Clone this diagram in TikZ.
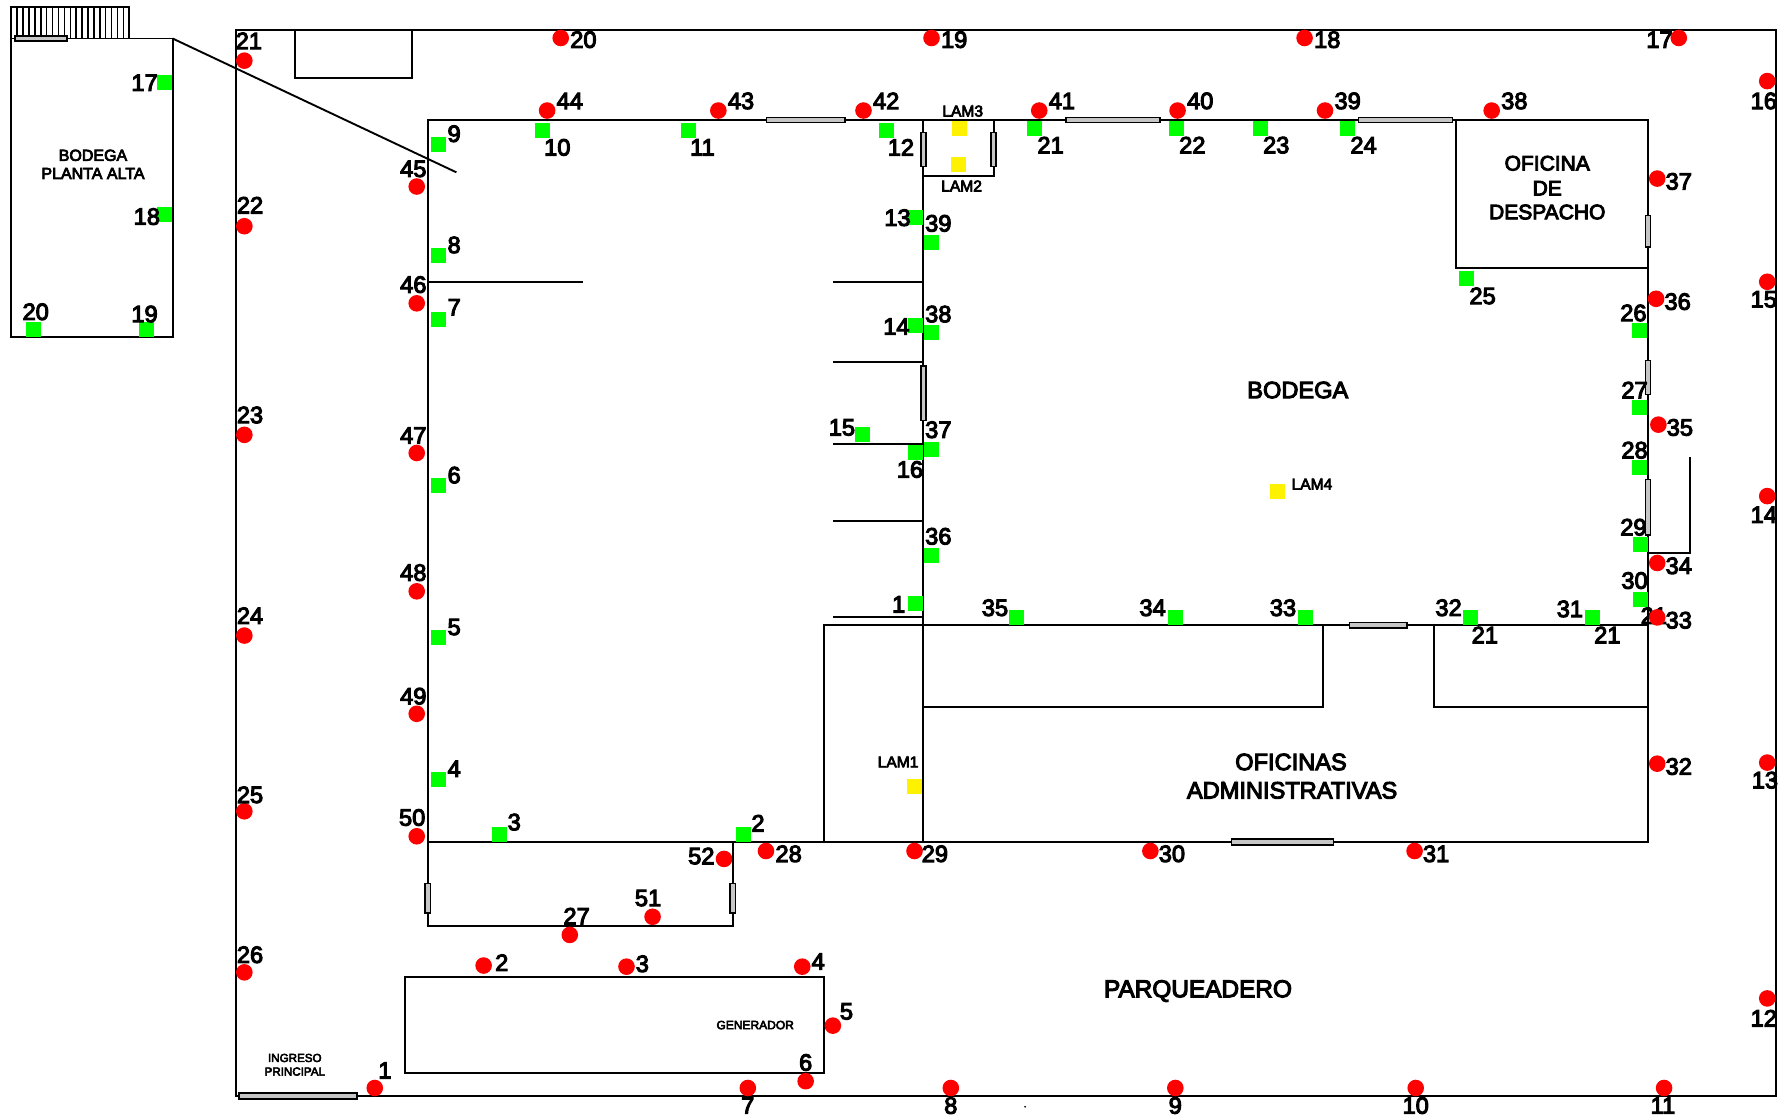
\documentclass[tikz,border=0pt]{standalone}
\usepackage{fontspec}
\setmainfont[FakeBold=4.5]{Liberation Sans}
\newcommand{\fsz}[1]{\fontsize{#1}{#1}\selectfont}
\tikzset{
  plan/.style={line width=0.95pt,draw=black},
  win/.style={line width=0.8pt,draw=black,fill=gray!45},
  reddot/.style={circle,fill=red,inner sep=0pt,minimum size=8.3pt},
  grn/.style={rectangle,fill=green,inner sep=0pt,minimum size=7.5pt},
  yel/.style={rectangle,fill=yellow,inner sep=0pt,minimum size=7.5pt},
  num/.style={inner sep=0pt,font=\fsz{11.8}},
  lam/.style={inner sep=0pt,font=\fsz{7.8}},
  room/.style={inner sep=0pt,font=\fsz{11.8}},
  smalltxt/.style={inner sep=0pt,font=\fsz{5.8}},
}
\begin{document}
\begin{tikzpicture}[x=0.56696pt,y=-0.56696pt]
\useasboundingbox (0,0) rectangle (1568,985);
% outer boundary and yard
\draw[plan] (208,26.3) rectangle (1566,966.3);
\draw[plan] (260.3,26) -- (260.3,69) -- (363.5,69) -- (363.5,26);
% upper floor
\draw[plan] (10,34) rectangle (152.3,297);
\draw[plan] (152.3,34) -- (402.5,152);
\draw[plan] (10,6) rectangle (114,34);
\foreach \i in {1,...,19} \draw[line width=0.75pt] ({10+\i*5.2},6) -- ({10+\i*5.2},34);
\draw[win] (13,31.5) rectangle (59,36);
% main building
\draw[plan] (377.3,106) rectangle (1453.3,742.5);
\draw[plan] (814.3,106) -- (814.3,742.5);
\draw[plan] (377.3,742.5) -- (377.3,816.5) -- (646.3,816.5) -- (646.3,742.5);
\draw[plan] (1284.3,106) -- (1284.3,236) -- (1453.3,236);
\draw[plan] (726.3,742.5) -- (726.3,551) -- (1453.3,551);
\draw[plan] (814.3,155.5) -- (876.3,155.5) -- (876.3,106);
\draw[plan] (814.3,623.3) -- (1166.5,623.3) -- (1166.5,551);
\draw[plan] (1264.3,551) -- (1264.3,623.3) -- (1453.3,623.3);
\draw[plan] (377.3,249) -- (514,249);
\draw[plan] (735,249) -- (814.3,249);
\draw[plan] (735,319.3) -- (814.3,319.3);
\draw[plan] (735,391.3) -- (814.3,391.3);
\draw[plan] (735,459.3) -- (814.3,459.3);
\draw[plan] (735,544) -- (814.3,544);
\draw[plan] (1453.3,487.3) -- (1490.3,487.3) -- (1490.3,403);
\draw[plan] (357,861.3) rectangle (727,946.3);
% windows and doors
\foreach \xa/\ya/\xb/\yb in {676/103.5/745/108, 940/103.5/1023/108, 1198/103.5/1281/108,
  1086/740/1176/745, 1190/549/1241/554, 211/964/315/969,
  812/117/816.5/147, 874/117/878.5/147, 812/323/816.5/371,
  1451/190/1455.5/218, 1451/318/1455.5/348, 1451/423/1455.5/472,
  375/779/379.5/805, 644/779/648.5/805}
  \draw[win] (\xa,\ya) rectangle (\xb,\yb);
% labels that lie behind the markers
\node[num] (extra1) at (1309.5,560) {21};
\node[num] (extra2) at (1417.5,560) {21};
\node[num] (extra3) at (1458.5,543) {21};
% red points
\foreach \n/\x/\y/\lx/\ly in {
 1/330/959/339/944, 2/426/851/442/849, 3/552/852/566/850, 4/707/852/721/848,
 5/734/904/746/892, 6/710/953/710/937, 7/659/959/659/975, 8/838/959/838/975,
 9/1036/959/1036/975, 10/1248/959/1248/975, 11/1467/959/1466/975, 12/1558/880/1555/898,
 13/1558/672/1556/688, 14/1558/437/1555/454, 15/1558/248/1555/264, 16/1558/71/1555/89,
 17/1480/33/1463/35, 18/1150/33/1170/35, 19/821/33/841/35, 20/494/33/514/35,
 21/215/53/219/36, 22/215/199/220/181, 23/215/383/220/366, 24/215/560/220/543,
 25/215/715/220/701, 26/215/857/220/842, 27/502/824/508/808, 28/675/750/695/753,
 29/806/750/824/753, 30/1014/750/1033/753, 31/1247/750/1266/753, 32/1461/673/1480/676,
 33/1461/544/1480/547, 34/1461/496/1480/499, 35/1462/374/1481/377, 36/1460/263/1479/266,
 37/1461/157/1480/160, 38/1315/97/1335/89, 39/1168/97/1188/89, 40/1038/97/1058/89,
 41/916/97/936/89, 42/761/97/781/89, 43/633/97/653/89, 44/482/97/502/89,
 45/367/164/364/149, 46/367/267/364/251, 47/367/399/364/384, 48/367/521/364/505,
 49/367/629/364/614, 50/367/737/363/721, 51/575/808/571/792, 52/638/757/618/755}
{
  \node[reddot] (rd\n) at ({\x+0.5},{\y+0.5}) {};
  \node[num] (rl\n) at ({\lx+0.5},\ly) {\n};
}
% green points
\foreach \n/\x/\y/\lx/\ly in {
 1/807/532/792/533, 2/655/735/668/726, 3/440/735/453/725, 4/386/687/400/678,
 5/386/562/400/553, 6/386/428/400/419, 7/386/281/400/271, 8/386/225/400/216,
 9/386/127/400/118, 10/478/115/491/130, 11/607/115/619/130, 12/781/115/794/130,
 13/807/191/791/192, 14/807/287/790/288, 15/760/383/742/377, 16/807/399/802/414,
 17/145/72/127/73, 18/145/189/129/191, 19/129/290/127/277, 20/29/290/31/275,
 21/912/113/926/128, 22/1037/113/1051/128, 23/1111/113/1125/128, 24/1188/113/1202/128,
 25/1293/245/1307/261, 26/1445/291/1440/276, 27/1445/359/1441/344, 28/1445/412/1441/397,
 29/1446/480/1440/465, 30/1446/528/1441/512, 31/1404/544/1384/537, 32/1296/544/1277/536,
 33/1151/544/1131/536, 34/1036/544/1016/536, 35/896/544/877/536, 36/821/489/827/473,
 37/821/396/827/379, 38/821/293/827/277, 39/821/213/827/197}
{
  \node[grn] (gp\n) at ({\x+0.5},{\y+0.5}) {};
  \node[num] (gl\n) at ({\lx+0.5},\ly) {\n};
}
% lamps
\node[yel] (lam3) at (846.5,113.5) {};
\node[yel] (lam2) at (845.5,145.5) {};
\node[yel] (lam4) at (1126.5,433.5) {};
\node[yel] (lam1) at (806.5,693.5) {};
\node[lam] (tlam3) at (849,98) {LAM3};
\node[lam] (tlam2) at (848,164) {LAM2};
\node[lam] (tlam4) at (1157,427) {LAM4};
\node[lam] (tlam1) at (792,672) {LAM1};
% room names
\node[room] (tb) at (1144.5,344) {BODEGA};
\node[room,font=\fsz{10.5}] (to1) at (1364.5,144) {OFICINA};
\node[room,font=\fsz{10.5}] (to2) at (1364.5,166) {DE};
\node[room,font=\fsz{10.5}] (to3) at (1364.5,187) {DESPACHO};
\node[room] (ta1) at (1138.5,672) {OFICINAS};
\node[room] (ta2) at (1139.5,697) {ADMINISTRATIVAS};
\node[room,font=\fsz{12.2}] (tp) at (1056.5,874) {PARQUEADERO};
\node[smalltxt,font=\fsz{6}] (tg) at (666,904) {GENERADOR};
\node[smalltxt] (ti1) at (260,933) {INGRESO};
\node[smalltxt] (ti2) at (260,945) {PRINCIPAL};
\node[inner sep=0pt,font=\fsz{8}] (tu1) at (82,137) {BODEGA};
\node[inner sep=0pt,font=\fsz{8}] (tu2) at (82,153) {PLANTA ALTA};
\fill (904,976) circle (0.5pt);
\end{tikzpicture}
\end{document}
